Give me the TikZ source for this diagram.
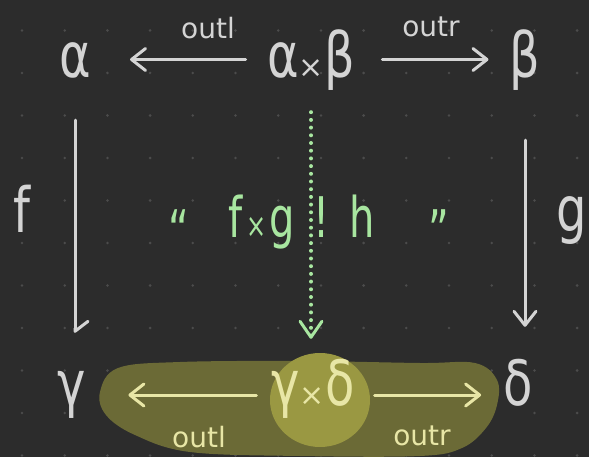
\documentclass[tikz,border=0pt]{standalone}
\usepackage{fontspec}
\setmainfont{DejaVu Sans}
\usepackage{graphicx}
\usetikzlibrary{arrows.meta}
\definecolor{bg}{HTML}{2C2C2C}
\definecolor{griddot}{HTML}{4C4C4C}
\definecolor{ink}{HTML}{D4D4D4}
\definecolor{mint}{HTML}{A8E6A0}
\definecolor{blobc}{HTML}{6B6A36}
\definecolor{spot}{HTML}{9A9842}
\definecolor{cream}{HTML}{E8E6A6}
\newcommand{\tall}[1]{\scalebox{1}[1.3]{#1}}
\newcommand{\smx}{{\fontsize{30}{30}\selectfont ×}}
\begin{document}
\begin{tikzpicture}[x=1pt,y=-1pt,
  sym/.style={font=\fontsize{48}{50}\selectfont, inner sep=0pt, anchor=base, text=ink},
  toprow/.style={text height=55pt, text depth=18pt},
  botrow/.style={text height=44pt, text depth=24pt},
  lbl/.style={font=\fontsize{28}{30}\selectfont, inner sep=0pt, text=ink},
  arr/.style={draw=ink, line width=3pt, line cap=round,
    -{Straight Barb[length=14pt,width=22pt,line width=3pt,round]}},
  hook/.style={draw=ink, line width=3pt, line cap=round,
    -{Straight Barb[harpoon,length=10pt,width=26pt,line width=3pt,round]}},
  carr/.style={draw=cream, line width=3pt, line cap=round,
    -{Straight Barb[length=14pt,width=22pt,line width=3pt,round]}},
  dotarr/.style={draw=mint, line width=4pt, line cap=round, dash pattern=on 0pt off 7.7pt,
    -{Straight Barb[length=16pt,width=22pt,line width=3pt,round]}},
]
\fill[bg] (0,0) rectangle (589,457);
\useasboundingbox (0,0) rectangle (589,457);
% dot grid
\foreach \i in {0,...,13}
  \foreach \j in {0,...,10}
    \fill[griddot] (22+42.7*\i, 30.5+42.5*\j) circle (1.4pt);
% highlight blob
\fill[blobc] plot[smooth cycle, tension=0.6] coordinates {
  (100,392) (118,368) (180,362) (300,361) (420,363) (475,363) (497,380) (497,405)
  (486,428) (462,448) (420,456) (300,456) (190,452) (135,435) (106,415)};
\fill[spot] (320,400) circle[x radius=50pt, y radius=47pt];
% nodes
\node[sym,toprow] (a) at (75,78) {\tall{α}};
\node[sym,toprow] (ab) at (311,78) {\tall{α}\smx\tall{β}};
\node[sym,toprow] (b) at (525,78) {\tall{β}};
\node[sym,botrow] (c) at (72,405) {\tall{γ}};
\node[sym,botrow,text=cream] (cd) at (313,405) {\tall{γ}\smx\tall{δ}};
\node[sym,botrow] (d) at (518,405) {\tall{δ}};
\node[sym,toprow] (fl) at (22,233) {\tall{f}};
\node[sym,toprow] (gl) at (572,232) {\tall{g}};
\node[lbl] (ol1) at (208,28) {outl};
\node[lbl] (or1) at (431,27) {outr};
\node[lbl,text=cream] (ol2) at (199,437) {outl};
\node[lbl,text=cream] (or2) at (422,436) {outr};
\node[anchor=base west, inner sep=0pt, text=mint, font=\fontsize{40}{42}\selectfont] (q) at (168,238)
  {\scalebox{1}[1.4]{\raisebox{-9pt}{“}\hspace{40pt}f\hspace{3pt}{\fontsize{24}{24}\selectfont ×}\hspace{3pt}g\hspace{19pt}!\hspace{20pt}h\hspace{54pt}\raisebox{-9pt}{”}}};
% connectors
\draw[arr, shorten <=21.5pt, shorten >=39pt] (ab.west) -- (a.east);
\draw[arr, shorten <=27.5pt, shorten >=21pt] (ab.east) -- (b.west);
\draw[hook, shorten <=24pt, shorten >=28pt] (a.south) -- ([xshift=3pt]c.north);
\draw[arr, shorten <=44pt, shorten >=34pt] (b.south) -- ([xshift=7pt]d.north);
\draw[dotarr, shorten <=16pt, shorten >=22pt] (ab.south) -- ([xshift=-2pt]cd.north);
\draw[carr, shorten <=15pt, shorten >=42pt] (cd.west) -- (c.east);
\draw[carr, shorten <=20pt, shorten >=22pt] (cd.east) -- (d.west);
\end{tikzpicture}
\end{document}
